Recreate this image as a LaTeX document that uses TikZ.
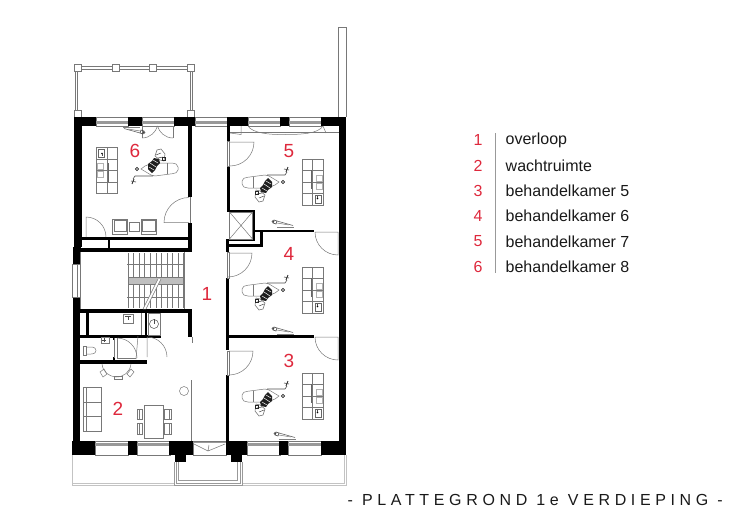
\documentclass[tikz,border=0pt]{standalone}
\usepackage{fontspec}
\setmainfont{Liberation Sans}
\definecolor{numred}{RGB}{222,40,60}
\definecolor{linegr}{RGB}{120,120,120}
\definecolor{palegr}{RGB}{195,195,195}
\tikzset{
  wall/.style={fill=black,draw=none},
  fine/.style={draw=linegr,line width=0.5pt,fill=none},
  pale/.style={draw=palegr,line width=0.7pt,fill=none},
  glass/.style={draw=linegr,line width=0.5pt,fill=white},
  band/.style={fill=black!40,draw=none},
  roomnum/.style={text=numred,font=\fontsize{19}{19}\selectfont,inner sep=0pt},
  legnum/.style={text=numred,font=\fontsize{16}{16}\selectfont,inner sep=0pt},
  legtext/.style={text=black!90,font=\fontsize{16}{16}\selectfont,inner sep=0pt,anchor=west},
  chairunit/.pic={
    \draw[fine,rounded corners=2pt] (-2,-11) -- (-21,-8.5) -- (-25,-7) -- (-25,0) -- (-21,2) -- (-6,2);
    \draw[fine] (-14,-9) -- (-14,2);
    \draw[fine] (-2,-11) -- (2,-10) -- (12,-4) -- (8,-1) -- (3,1);
    \draw[draw=black!70,line width=0.6pt] (0,-11) -- (18,-11) -- (20,-14);
    \draw[draw=black!80,line width=0.9pt] (19,-14) -- (21,-19);
    \draw[draw=black!70,line width=0.6pt] (17,-17) -- (22,-16);
    \draw[draw=black!85,line width=0.6pt] (16,-4) circle (1.6);
    \fill[black!88] (1,-8) -- (5,-4) -- (5,1) -- (1,4) -- (-1,7) -- (-6,6) -- (-7,2) -- (-4,-1) -- (-2,-5) -- cycle;
    \draw[white,line width=0.45pt] (-5,2) -- (0,5) (-3,-2) -- (3,2) (-1,-5) -- (4,-2);
    \draw[fine,draw=black!60] (-11,4) -- (-7,5) -- (-2,9) -- (-4,15) -- (-8,16) -- (-12,11) -- cycle;
    \draw[fine,draw=black!70] (-10,8) -- (-5,7) (-8,12) -- (-3,10);
    \draw[draw=black!85,line width=0.6pt] (-12,5) rectangle (-9,8);
  },
  instrument/.pic={
    \draw[draw=black!60,line width=0.6pt] (3,1) -- (19,5.5);
    \draw[fine] (3,3) -- (15,5);
    \draw[draw=black!50,line width=1pt] (3,7) -- (20,7);
    \draw[draw=black!75,line width=0.6pt] (0,0) -- (-1,3) -- (2,4) -- (3,1) -- cycle;
    \draw[draw=black!75,line width=0.5pt] (-1,1.5) circle (1);
  },
  cabinet/.pic={
    \draw[fine] (0,0) rectangle (21,46);
    \draw[fine] (10,0) -- (10,46);
    \draw[fine] (0,11) -- (21,11) (0,23) -- (21,23) (0,34) -- (21,34);
    \draw[draw=black!60,line width=0.8pt] (9.5,11) -- (9.5,30);
    \draw[draw=black!30,line width=0.5pt] (14,16) rectangle (20,22);
    \draw[draw=black!30,line width=0.5pt] (14,24) rectangle (20,30);
    \draw[draw=black!60,line width=0.5pt] (13,36) rectangle (19,44);
    \fill[black] (15.5,39.5) circle (0.8);
    \draw[draw=black!70,line width=0.4pt] (15.5,39) -- (15.5,37);
  },
}
\begin{document}
\begin{tikzpicture}[x=1pt,y=-1pt]
\useasboundingbox (0,0) rectangle (750,530);

% balconies (behind)
\draw[pale] (72,455) -- (72,485) -- (346,485) -- (346,455);
\draw[pale] (72,483) -- (174,483) (242,483) -- (344,483) -- (344,455);
\foreach \d in {0,2.2,4.4}{
  \draw[fine,draw=black!40] (174+\d,462) -- (174+\d,485-\d) -- (242-\d,485-\d) -- (242-\d,462);
}
\draw[fine] (338,117) -- (338,27) -- (346,27) -- (346,117);
% balcony room 6
\draw[fine] (78,66.5) -- (190,66.5) (78,69) -- (190,69);
\draw[fine] (75.5,70) -- (75.5,112) (77.5,70) -- (77.5,112);
\draw[fine] (190,70) -- (190,112) (192.5,70) -- (192.5,112);
\foreach \px in {74,112,149,187}{ \draw[glass] (\px,64.5) rectangle +(7,6.5); }
\draw[glass] (74,110) rectangle +(7,7);
\draw[glass] (187,110) rectangle +(7,7);

% windows top
\foreach \wx in {96,142,195,248,289}{
  \draw[glass] (\wx,117) rectangle +(32,9);
  \fill[band] (\wx,121) rectangle +(32,2.6);
}
% windows bottom
\foreach \wx in {95,137,247,288}{
  \draw[glass] (\wx,441) rectangle +(33,14);
  \fill[band] (\wx,443) rectangle +(33,3);
}
% corridor balcony door
\draw[glass] (193,441) rectangle (226,455);
\fill[band] (193,441.5) rectangle (226,442.5);
\draw[fine] (194,444) -- (208,451) -- (225,444) (208,451) -- (209,445);

% outer walls
\fill[wall] (74,117) rectangle (96,126);
\fill[wall] (128,117) rectangle (142,126);
\fill[wall] (174,117) rectangle (195,126);
\fill[wall] (227,117) rectangle (248,126);
\fill[wall] (280,117) rectangle (289,126);
\fill[wall] (321,117) rectangle (346,126);
\fill[wall] (339,117) rectangle (346,455);
\fill[wall] (74,117) rectangle (82,247);
\fill[wall] (73,247) rectangle (80.5,264);
\fill[wall] (73,297) rectangle (80,455);
\draw[glass] (72,264) rectangle (80,297);
\draw[fine] (77,264) -- (77,297);
\fill[wall] (72,441) rectangle (95,455);
\fill[wall] (128,441) rectangle (137,455);
\fill[wall] (169,441) rectangle (193,455);
\fill[wall] (175,455) rectangle (186,462);
\fill[wall] (226,441) rectangle (247,455);
\fill[wall] (231,455) rectangle (242,462);
\fill[wall] (279,441) rectangle (288,455);
\fill[wall] (321,441) rectangle (346,455);

% room 6 partitions
\fill[wall] (188,126) rectangle (191.5,197);
\fill[wall] (188,223) rectangle (191.5,252);
\fill[wall] (82,237) rectangle (190,239.5);
\fill[wall] (108,237) rectangle (110,250);
\fill[wall] (81,247.5) rectangle (191.5,252);
\draw[fine] (190,197) -- (190,223);

% sanitary block
\fill[wall] (79,309) rectangle (192,313);
\fill[wall] (188,313) rectangle (192,337);
\fill[wall] (86,313) rectangle (89,336);
\fill[wall] (80,335) rectangle (161,337.5);
\fill[wall] (144.7,313) rectangle (147,337);
\draw[fine] (141.5,313) -- (141.5,335);
\fill[wall] (80,359.5) rectangle (147,364);
\fill[wall] (113,337) rectangle (115,340);
\fill[wall] (113,356.5) rectangle (115,360);

% right rooms partitions
\fill[wall] (227,126) rectangle (230,141);
\fill[wall] (227,166) rectangle (230,211);
\fill[wall] (227,210) rectangle (254.5,212);
\fill[wall] (252.5,210) rectangle (254.5,241);
\fill[wall] (226,239) rectangle (254.5,241);
\fill[wall] (254,229.5) rectangle (314,232);
\fill[wall] (259.5,229.5) rectangle (263,247);
\fill[wall] (226,243.5) rectangle (263,247);
\fill[wall] (226,239) rectangle (229,252);
\fill[wall] (226,278) rectangle (229,350);
\fill[wall] (226,375) rectangle (229,441);
\fill[wall] (229,335) rectangle (314,338);
\draw[fine] (229.5,212) rectangle (252.5,239);
\draw[fine] (229.5,212) -- (252.5,239) (252.5,212) -- (229.5,239);

% doors
\draw[fine] (230,142) -- (254,142) arc[start angle=0,end angle=-90,radius=24pt];
\draw[fine] (229,253) -- (252,253) arc[start angle=0,end angle=-90,radius=24pt];
\draw[fine] (229,351) -- (253,351) arc[start angle=0,end angle=-90,radius=24pt];
\draw[fine] (227.5,141) rectangle (229.5,166);
\draw[fine] (227.5,252) rectangle (229,278);
\draw[fine] (227.5,351) rectangle (229,375);
\draw[fine] (315,232) arc[start angle=180,end angle=270,radius=23pt] -- (338,232) -- (315,232);
\draw[fine] (315,337) arc[start angle=180,end angle=270,radius=23pt] -- (338,337) -- (315,337);
\draw[fine] (189,197.5) arc[start angle=90,end angle=180,radius=25pt] -- (189,222.5);
\draw[fine] (86,237) -- (86,217) arc[start angle=90,end angle=0,radius=20pt];
\draw[fine] (142,126) -- (142,138) (173,126) -- (173,138);
\draw[fine] (142,138) .. controls (150,138) and (156,132) .. (157.5,126);
\draw[fine] (173,138) .. controls (165,138) and (159,132) .. (157.5,126);
\draw[fine] (147,337) -- (147,357) (147,337) arc[start angle=90,end angle=0,radius=20pt];
\draw[fine] (114,338) -- (114,358) (117,338) -- (117,358) -- (136,358);
\draw[fine] (117,338) arc[start angle=90,end angle=0,radius=20pt];
\draw[fine] (138,336) -- (136,359);

% curtain room 5
\draw[fine] (230,132) -- (339,132);
\draw[fine] (248,126) .. controls (252,133) and (270,135) .. (285,134.5) .. controls (300,134.5) and (318,134) .. (323,126);
\draw[fine] (230,133) -- (241,134.5) -- (241,126);
\draw[fine] (323,126) -- (326,133);

% stairs
\foreach \i in {0,...,10}{
  \draw[fine] (128+\i*5.55,253) -- (128+\i*5.55,277);
  \draw[fine] (128+\i*5.55,284) -- (128+\i*5.55,308);
}
\draw[fine] (127,264.5) -- (184,264.5) (127,297) -- (184,297);
\draw[fine] (184,252) -- (184,309);
\fill[black!25] (128,277) rectangle (183,284);
\draw[fine] (128,277) rectangle (183,284);
\fill[white] (158,279) -- (161,279) -- (146,309) -- (143,309) -- cycle;
\draw[fine] (158,279) -- (143,309) (161,279) -- (146,309);
\draw[fine] (80.5,252) -- (80.5,309);

% living room fine line
\draw[fine] (191,380) -- (191,441);
\draw[fine] (192,337) -- (192,343);

% sanitary fittings
\draw[fine] (123,314) rectangle (133,323);
\draw[draw=black!70,line width=0.6pt] (125,316) -- (131,316) (128,316) -- (128,320);
\draw[fine] (148,313) rectangle (160,335);
\draw[draw=black!70,line width=0.5pt] (154,324) circle (4.5);
\draw[draw=black!70,line width=0.5pt] (154,319) -- (154,324);
\draw[fine] (83.5,346) rectangle (86,355);
\draw[fine] (86,347) -- (91,347) .. controls (95,347) and (96,349) .. (96,350.5) .. controls (96,352) and (95,354) .. (91,354) -- (86,354);
\draw[fine] (101,337.5) rectangle (109,343);
\draw[draw=black!70,line width=0.5pt] (102,340) -- (106,340) (104,338) -- (104,342);

% furniture room 2
\draw[fine] (83,387) rectangle (101,431);
\draw[fine] (86,387) -- (86,431) (83,402) -- (101,402) (83,416) -- (101,416);
\draw[fine] (144,405) rectangle (163,438);
\draw[fine] (137,409) rectangle (142.5,419) (137,423) rectangle (142.5,434);
\draw[fine] (164.5,409) rectangle (171,419) (164.5,423) rectangle (171,434);
\draw[fine] (139,409) -- (139,419) (139,423) -- (139,434);
\draw[fine] (169,409) -- (169,419) (169,423) -- (169,434);
\draw[fine] (184,391) circle (4.5);
\draw[fine] (102,364) .. controls (103,372) and (108,376) .. (116,377) .. controls (124,377) and (130,372) .. (131,364);
\draw[fine] (100,372) -- (104,369) -- (107,374) -- (103,377) -- cycle;
\draw[fine] (114,376) rectangle (122,379);
\draw[fine] (127,374) -- (131,369) -- (134,372) -- (130,377) -- cycle;

% furniture room 6
\draw[fine] (112,219) rectangle (127,234);
\draw[fine] (114,220) rectangle (126,231);
\draw[fine] (129,222) rectangle (139,231);
\draw[fine] (141,219) rectangle (156,234);
\draw[fine] (142,220) rectangle (155,231);

% treatment units
\pic at (267,186) {chairunit};
\pic at (267,294) {chairunit};
\pic at (267,400) {chairunit};
\pic[rotate=180] at (153,165) {chairunit};
\pic at (302,159) {cabinet};
\pic at (302,267) {cabinet};
\pic at (302,373) {cabinet};
\pic[rotate=180] at (117.5,193) {cabinet};
\pic at (274,220) {instrument};
\pic at (274,327) {instrument};
\pic at (276,432) {instrument};
\pic[rotate=180] at (143,134) {instrument};

% room numbers
\node[roomnum] (r1) at (207,294) {1};
\node[roomnum] (r2) at (118,409) {2};
\node[roomnum] (r3) at (289,361) {3};
\node[roomnum] (r4) at (289,254) {4};
\node[roomnum] (r5) at (289,151) {5};
\node[roomnum] (r6) at (135,151) {6};

% legend
\draw[draw=black!40,line width=0.6pt] (495,133) -- (495,273);
\foreach \n/\ty/\txt in {1/140/overloop,2/165.5/wachtruimte,3/191/behandelkamer 5,4/216/behandelkamer 6,5/241.5/behandelkamer 7,6/267/behandelkamer 8}{
  \node[legnum] (ln\n) at (478,\ty) {\n};
  \node[legtext] (lt\n) at (505.5,\ty) {\txt};
}

% title
\node[inner sep=0pt,anchor=west,text=black!90] (title) at (347.5,499.5)
  {\fontsize{16}{16}\selectfont\addfontfeature{LetterSpace=29}- PLATTEGROND 1e VERDIEPING -};
\end{tikzpicture}
\end{document}
